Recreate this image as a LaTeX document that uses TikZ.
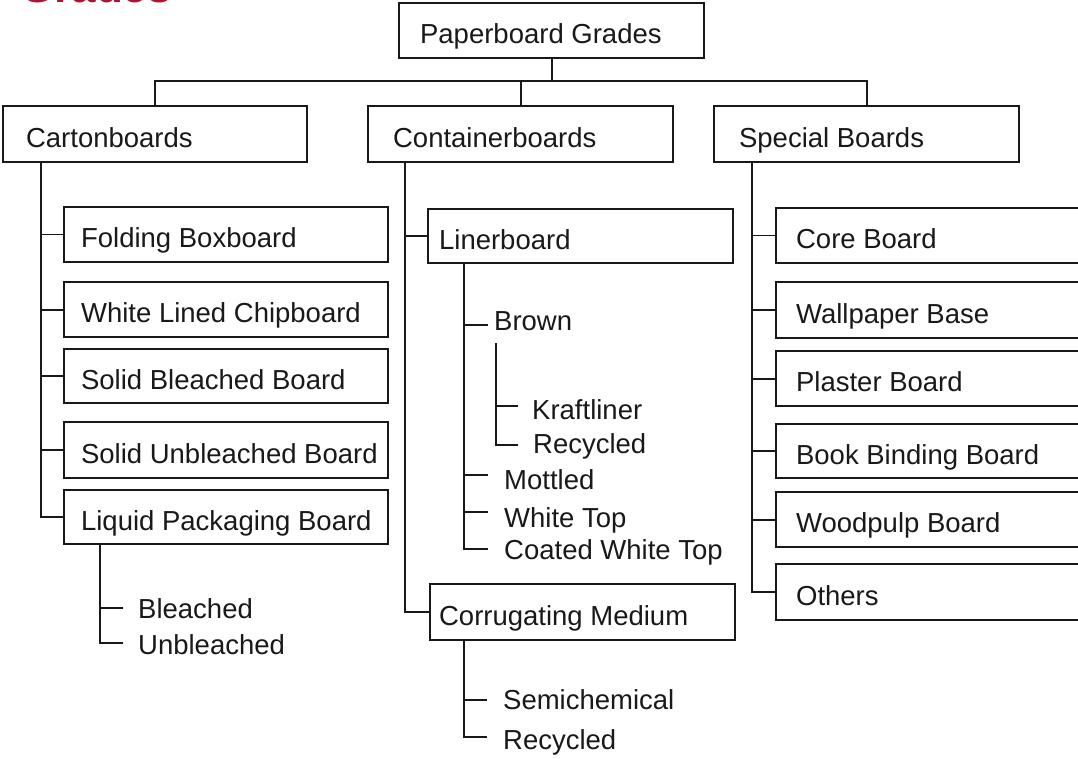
\documentclass[tikz,border=0pt]{standalone}
\usepackage{fontspec}
\setmainfont{Liberation Sans}
\definecolor{ink}{RGB}{25,25,25}
\definecolor{gradered}{RGB}{175,18,48}
\newcommand{\lfbx}[2]{\makebox[#1][l]{#2}}
\begin{document}
\begin{tikzpicture}[x=1pt,y=-1pt,
  lbl/.style={font=\fontsize{27.5}{33}\selectfont, text=ink},
  bx/.style={lbl, draw=ink, line width=2.2pt, anchor=north west, inner ysep=0pt, text height=26pt, text depth=0pt},
  sub/.style={lbl, inner sep=0pt, anchor=west, text height=19.7pt, text depth=0pt},
  ln/.style={draw=ink, line width=1.8pt}]
\useasboundingbox (0,0) rectangle (1078,759);
\clip (0,0) rectangle (1078,759);
\fill[white] (0,0) rectangle (1078,759);

% partially visible title
\node[font=\bfseries\fontsize{44}{50}\selectfont, text=gradered, anchor=base west, inner sep=0pt] (gr) at (20,3) {Grades};

% top levels
\node[bx, inner xsep=21pt, minimum height=55pt] (pg) at (398,2) {\lfbx{263pt}{Paperboard Grades}};
\node[bx, inner xsep=23pt, minimum height=56pt] (cb) at (2,105) {\lfbx{258pt}{Cartonboards}};
\node[bx, inner xsep=25pt, minimum height=56pt] (ct) at (367,105) {\lfbx{255pt}{Containerboards}};
\node[bx, inner xsep=25pt, minimum height=56pt] (sp) at (713,105) {\lfbx{255pt}{Special Boards}};

% cartonboards children
\node[bx, inner xsep=17pt, minimum height=55pt] (fb) at (63,206) {\lfbx{290pt}{Folding Boxboard}};
\node[bx, inner xsep=17pt, minimum height=55pt] (wl) at (63,281) {\lfbx{290pt}{White Lined Chipboard}};
\node[bx, inner xsep=17pt, minimum height=54pt] (sb) at (63,348) {\lfbx{290pt}{Solid Bleached Board}};
\node[bx, inner xsep=17pt, minimum height=56pt] (su) at (63,421) {\lfbx{290pt}{Solid Unbleached Board}};
\node[bx, inner xsep=17pt, minimum height=54pt] (lp) at (63,489) {\lfbx{290pt}{Liquid Packaging Board}};
\node[sub] (ble) at (138,609) {Bleached};
\node[sub] (unb) at (138,645) {Unbleached};

% containerboards children
\node[bx, inner xsep=11pt, minimum height=54pt] (lb) at (427,208) {\lfbx{283pt}{Linerboard}};
\node[bx, inner xsep=9pt, minimum height=56pt] (cm) at (429,583) {\lfbx{287pt}{Corrugating Medium}};
\node[sub] (brown) at (494,321) {Brown};
\node[sub] (kraft) at (532,410) {Kraftliner};
\node[sub] (recl) at (533,444) {Recycled};
\node[sub] (mot) at (504,480) {Mottled};
\node[sub] (wt) at (504,518) {White Top};
\node[sub] (cwt) at (504,550) {Coated White Top};
\node[sub] (semi) at (503,700) {Semichemical};
\node[sub] (recc) at (503,740) {Recycled};

% special boards children
\node[bx, inner xsep=20pt, minimum height=55pt] (core) at (775,207) {\lfbx{290pt}{Core Board}};
\node[bx, inner xsep=20pt, minimum height=56pt] (wp) at (775,281) {\lfbx{290pt}{Wallpaper Base}};
\node[bx, inner xsep=20pt, minimum height=55pt] (pl) at (775,350) {\lfbx{290pt}{Plaster Board}};
\node[bx, inner xsep=20pt, minimum height=54pt] (bb) at (775,423) {\lfbx{290pt}{Book Binding Board}};
\node[bx, inner xsep=20pt, minimum height=55pt] (wd) at (775,491) {\lfbx{290pt}{Woodpulp Board}};
\node[bx, inner xsep=20pt, minimum height=56pt] (ot) at (775,563) {\lfbx{290pt}{Others}};

% top connectors
\coordinate (hb) at (550,81);
\draw[ln] (pg.south) -- (pg.south |- hb);
\draw[ln] (cb.north) -- (cb.north |- hb) -- (sp.north |- hb) -- (sp.north);
\draw[ln] (ct.north) -- (ct.north |- hb);

% cartonboards spine
\coordinate (cbs) at ([xshift=39pt]cb.south west);
\draw[ln] (cbs) |- (lp.west);
\foreach \n in {fb,wl,sb,su} \draw[ln] (cbs |- \n.west) -- (\n.west);

% liquid packaging sub-items
\coordinate (lps) at ([xshift=37pt]lp.south west);
\coordinate (ble-b) at (123,608);
\coordinate (unb-b) at (123,643);
\draw[ln] (lps) |- (unb-b);
\draw[ln] (lps |- ble-b) -- (ble-b);

% containerboards spine
\coordinate (cts) at ([xshift=38pt]ct.south west);
\draw[ln] (cts) |- (cm.west);
\draw[ln] (cts |- lb.west) -- (lb.west);

% linerboard sub-items
\coordinate (lbs) at ([xshift=37pt]lb.south west);
\coordinate (brown-b) at (488,325);
\coordinate (mot-b) at (488,475);
\coordinate (wt-b) at (488,512);
\coordinate (cwt-b) at (488,549);
\draw[ln] (lbs) |- (cwt-b);
\foreach \n in {brown-b,mot-b,wt-b} \draw[ln] (lbs |- \n) -- (\n);

% brown sub-items
\coordinate (brs) at ([xshift=2pt,yshift=-12pt]brown.south west);
\coordinate (kr-b) at (518,406);
\coordinate (rl-b) at (518,445);
\draw[ln] (brs) |- (rl-b);
\draw[ln] (brs |- kr-b) -- (kr-b);

% corrugating medium sub-items
\coordinate (cms) at ([xshift=35pt]cm.south west);
\coordinate (semi-b) at (487,700);
\coordinate (recc-b) at (487,737);
\draw[ln] (cms) |- (recc-b);
\draw[ln] (cms |- semi-b) -- (semi-b);

% special boards spine
\coordinate (sps) at ([xshift=39pt]sp.south west);
\draw[ln] (sps) |- (ot.west);
\foreach \n in {core,wp,pl,bb,wd} \draw[ln] (sps |- \n.west) -- (\n.west);
\end{tikzpicture}
\end{document}
